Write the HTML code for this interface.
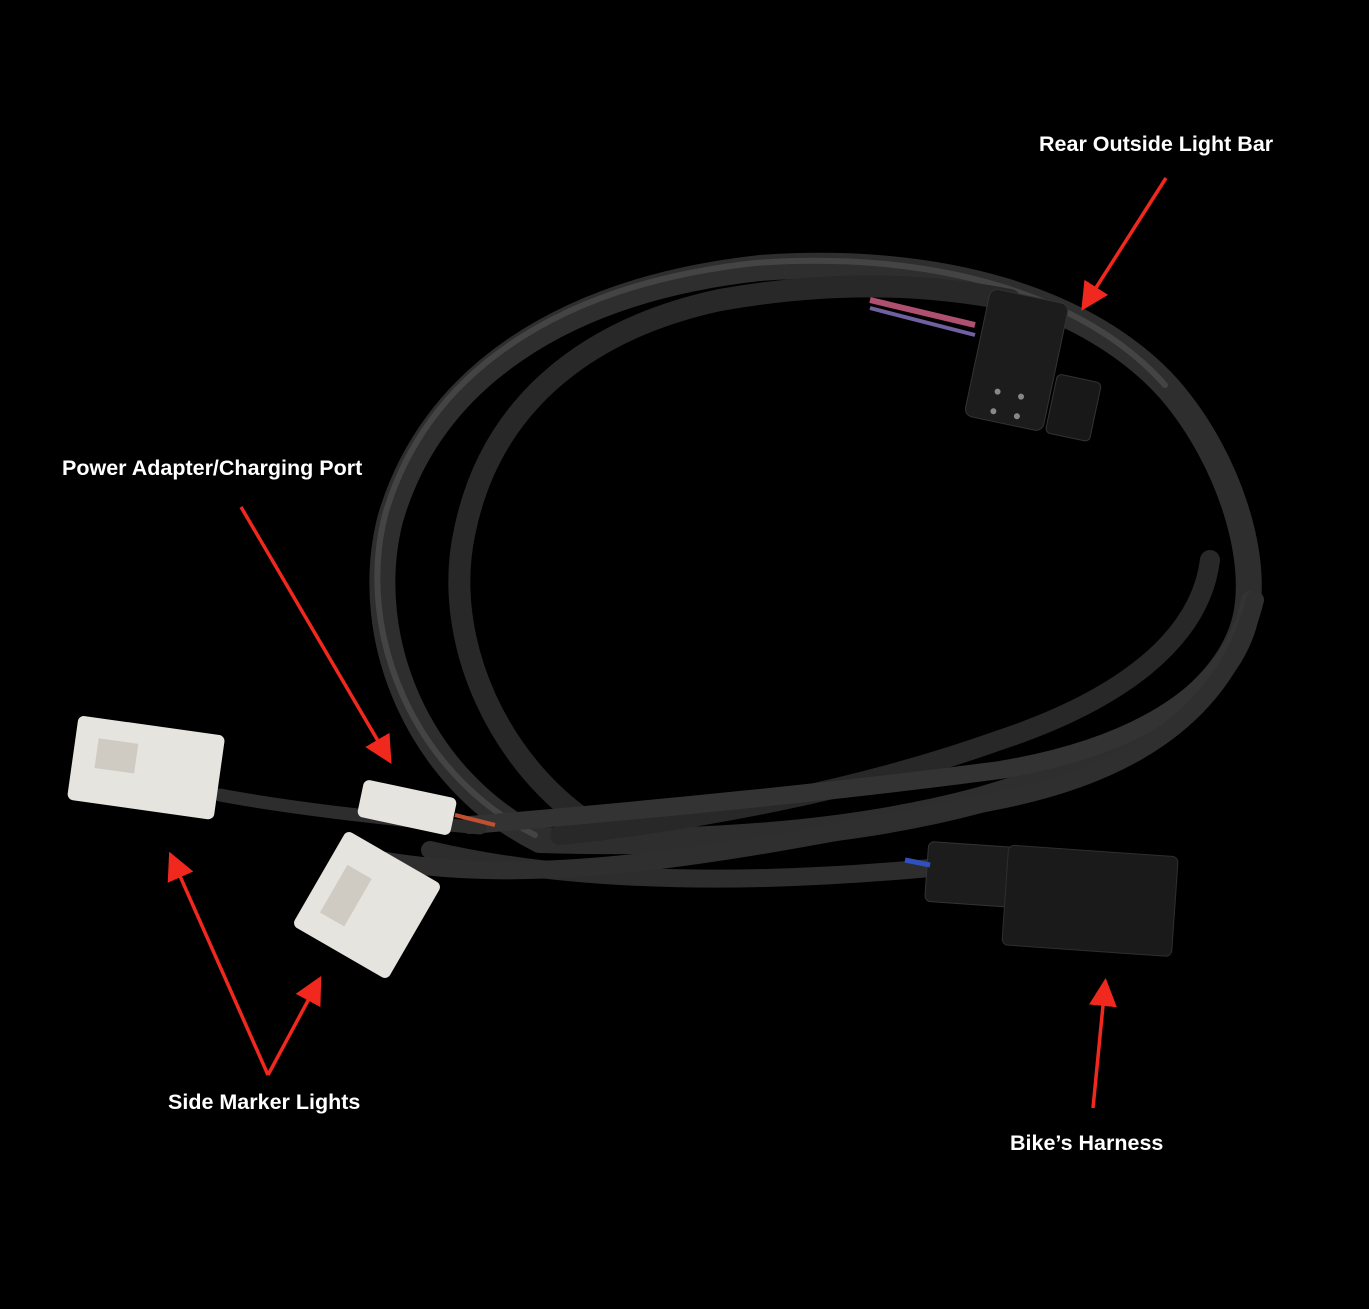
<!DOCTYPE html>
<html><head><meta charset="utf-8"><style>
html,body{margin:0;padding:0;background:#000;}
body{width:1369px;height:1309px;position:relative;overflow:hidden;font-family:"Liberation Sans",sans-serif;}
.l{position:absolute;color:#fff;font-weight:bold;font-size:21.5px;white-space:nowrap;}
</style></head><body>
<svg width="1369" height="1309" style="position:absolute;left:0;top:0">
<defs>
<marker id="ah" markerWidth="8" markerHeight="8" refX="6" refY="4" orient="auto" markerUnits="strokeWidth">
<path d="M0,0 L8,4 L0,8 z" fill="#f0281e"/></marker>
</defs>
<g fill="none" stroke-linecap="round">
<path d="M540,840 C420,780 360,640 390,520 C430,380 560,290 760,268 C940,255 1090,300 1170,390 C1230,460 1260,560 1245,620 C1225,700 1120,760 980,800 C850,835 700,845 540,840" stroke="#2e2e2e" stroke-width="26"/>
<path d="M540,840 C420,780 360,640 390,520 C430,380 560,290 760,268 C940,255 1090,300 1170,390" stroke="#444" stroke-width="6" transform="translate(-5,-5)"/>
<path d="M600,830 C500,770 440,640 465,530 C490,410 580,330 720,300 C860,275 960,290 1010,300" stroke="#282828" stroke-width="22"/>
<path d="M1210,560 C1200,640 1120,700 1000,740 C860,790 700,820 560,835" stroke="#282828" stroke-width="20"/>
<path d="M470,825 C650,810 850,790 1000,770 C1120,750 1230,700 1250,600" stroke="#333" stroke-width="18"/>
<path d="M430,850 C600,890 800,880 930,868" stroke="#2d2d2d" stroke-width="18"/>
<path d="M220,795 C300,810 400,820 480,828" stroke="#2d2d2d" stroke-width="13"/>
<path d="M380,860 C550,890 750,850 1000,800 C1150,770 1230,700 1255,600" stroke="#2f2f2f" stroke-width="18"/>
</g>
<path d="M870,300 L975,325" stroke="#b05070" stroke-width="6"/>
<path d="M870,308 L975,335" stroke="#7060a0" stroke-width="4"/>
<g transform="rotate(12 1040 370)">
<rect x="975" y="300" width="80" height="130" rx="8" fill="#1c1c1c" stroke="#333"/>
<rect x="1058" y="370" width="45" height="60" rx="5" fill="#181818" stroke="#333"/>
<circle cx="1003" cy="400" r="3" fill="#888"/><circle cx="1027" cy="400" r="3" fill="#888"/>
<circle cx="1003" cy="420" r="3" fill="#888"/><circle cx="1027" cy="420" r="3" fill="#888"/>
</g>
<g transform="rotate(4 1050 900)">
<rect x="925" y="850" width="90" height="60" rx="6" fill="#1c1c1c" stroke="#333"/>
<rect x="1005" y="848" width="170" height="100" rx="6" fill="#1a1a1a" stroke="#2e2e2e"/>
</g>
<path d="M905,860 L930,865" stroke="#3050c0" stroke-width="5"/>
<g transform="rotate(8 145 768)"><rect x="72" y="725" width="148" height="85" rx="6" fill="#e6e4df"/><rect x="95" y="745" width="40" height="30" fill="#cfcac2"/></g>
<g transform="rotate(12 405 805)"><rect x="360" y="788" width="95" height="38" rx="6" fill="#e6e4df"/></g>
<path d="M455,815 L495,825" stroke="#c05030" stroke-width="4"/>
<g transform="rotate(30 367 905)"><rect x="312" y="850" width="110" height="110" rx="6" fill="#e6e4df"/><rect x="330" y="880" width="28" height="55" fill="#cfcac2"/></g>
<g stroke="#f0281e" stroke-width="3.5" fill="none">
<line x1="1166" y1="178" x2="1085" y2="305" marker-end="url(#ah)"/>
<line x1="241" y1="507" x2="388" y2="758" marker-end="url(#ah)"/>
<line x1="268" y1="1075" x2="172" y2="858" marker-end="url(#ah)"/>
<line x1="268" y1="1075" x2="318" y2="982" marker-end="url(#ah)"/>
<line x1="1093" y1="1108" x2="1105" y2="985" marker-end="url(#ah)"/>
</g>
</svg>
<div class="l" style="left:1039px;top:132px">Rear Outside Light Bar</div>
<div class="l" style="left:62px;top:456px">Power Adapter/Charging Port</div>
<div class="l" style="left:168px;top:1090px">Side Marker Lights</div>
<div class="l" style="left:1010px;top:1131px">Bike’s Harness</div>
</body></html>
